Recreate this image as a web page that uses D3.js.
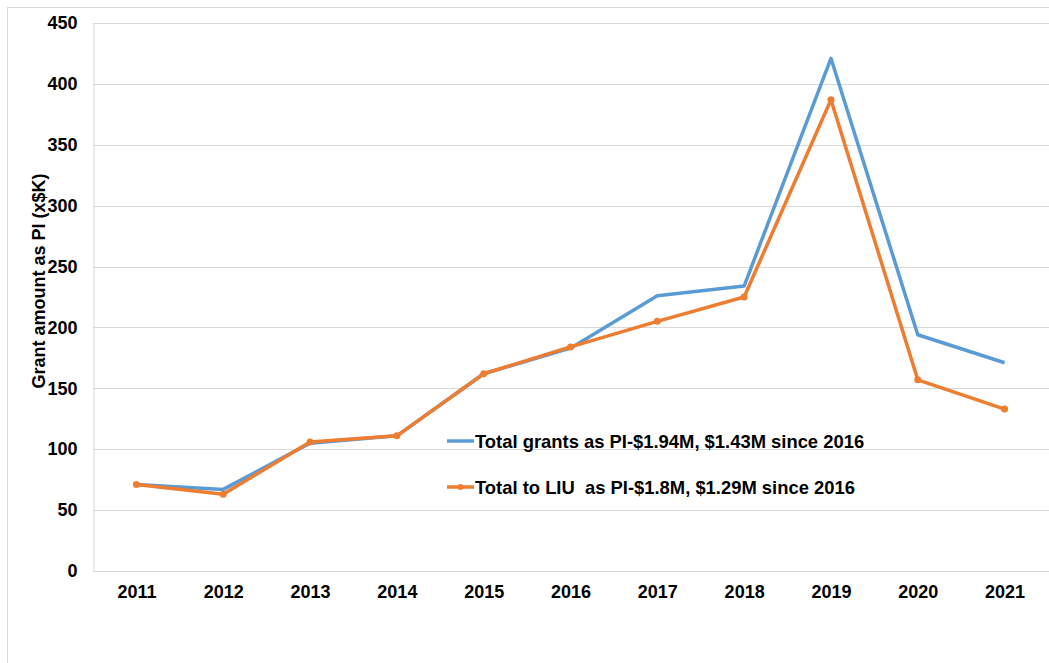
<!DOCTYPE html>
<html>
<head>
<meta charset="utf-8">
<script src="https://cdn.jsdelivr.net/npm/d3@7"></script>
<style>
	body { margin: 0; background: #fff; }
	text { font-family: "Liberation Sans", Arial, sans-serif; font-weight: bold; fill: #000; }
</style>
</head>
<body>
<svg id="chart"></svg>
<script>
// DATA

var years = ["2011", "2012", "2013", "2014", "2015", "2016", "2017", "2018", "2019", "2020", "2021"];
var totalGrants = [71, 67, 105, 111, 162, 183, 226, 234, 421, 194, 171];
var totalLIU = [71, 63, 106, 111, 162, 184, 205, 225, 387, 157, 133];
var yTicks = [0, 50, 100, 150, 200, 250, 300, 350, 400, 450];
var seriesNames = ["Total grants as PI-$1.94M, $1.43M since 2016", "Total to LIU  as PI-$1.8M, $1.29M since 2016"];

// DIMENSIONS

var width = 1049,
	height = 663,
	plotLeft = 93,
	plotRight = 1048,
	plotTop = 23,
	plotBottom = 571;

var blue = '#5b9bd5',
	orange = '#ed7d31',
	grid = '#d9d9d9';

var svg = d3.select('#chart')
	.attr('width', width)
	.attr('height', height);

// outer frame
svg.append('rect')
	.attr('x', 7.5).attr('y', 7.5)
	.attr('width', width + 10).attr('height', height + 10)
	.style('fill', 'none')
	.style('stroke', grid);

// SCALES

var xScale = d3.scalePoint()
	.domain(years)
	.range([plotLeft, plotRight])
	.padding(0.5);

var yScale = d3.scaleLinear()
	.domain([0, 450])
	.range([plotBottom, plotTop]);

// gridlines
svg.append('g').selectAll('line').data(yTicks)
	.enter().append('line')
	.attr('x1', plotLeft).attr('x2', width)
	.attr('y1', function(d) { return Math.round(yScale(d)) + 0.5; })
	.attr('y2', function(d) { return Math.round(yScale(d)) + 0.5; })
	.style('stroke', grid);

// axes
var yAxis = d3.axisLeft(yScale).tickValues(yTicks).tickSize(0).tickPadding(16);
var yGuide = svg.append('g').attr('transform', 'translate(' + (plotLeft + 0.5) + ',0)');
yAxis(yGuide);
yGuide.select('.domain').style('stroke', grid);
yGuide.selectAll('text').style('font-size', '18px').style('font-family', null);

var xAxis = d3.axisBottom(xScale).tickSize(0).tickPadding(14);
var xGuide = svg.append('g').attr('transform', 'translate(0,' + (Math.round(plotBottom) + 0.5) + ')');
xAxis(xGuide);
xGuide.select('.domain').remove();
xGuide.selectAll('text').style('font-size', '18px').style('font-family', null);

svg.append('text')
	.attr('transform', 'translate(45,281) rotate(-90)')
	.attr('text-anchor', 'middle')
	.style('font-size', '18px')
	.text('Grant amount as PI (x$K)');

// LINES

var line = d3.line()
	.x(function(d, i) { return xScale(years[i]); })
	.y(function(d) { return yScale(d); });

svg.append('path')
	.datum(totalGrants)
	.attr('d', line)
	.style('fill', 'none')
	.style('stroke', blue)
	.style('stroke-width', 3.5)
	.style('stroke-linejoin', 'round');

svg.append('path')
	.datum(totalLIU)
	.attr('d', line)
	.style('fill', 'none')
	.style('stroke', orange)
	.style('stroke-width', 3.5)
	.style('stroke-linejoin', 'round');

svg.append('g').selectAll('circle').data(totalLIU)
	.enter().append('circle')
	.attr('cx', function(d, i) { return xScale(years[i]); })
	.attr('cy', function(d) { return yScale(d); })
	.attr('r', 3.5)
	.style('fill', orange);

// LEGEND

var legend = svg.append('g').selectAll('g').data(seriesNames)
	.enter().append('g')
	.attr('transform', function(d, i) { return 'translate(447,' + (441 + i * 46) + ')'; });

legend.append('line')
	.attr('x1', 0).attr('x2', 27)
	.style('stroke', function(d, i) { return i ? orange : blue; })
	.style('stroke-width', 3.5);

legend.filter(function(d, i) { return i === 1; })
	.append('circle')
	.attr('cx', 13.5).attr('r', 3)
	.style('fill', orange);

legend.append('text')
	.attr('x', 28)
	.attr('y', 6.5)
	.style('font-size', '18.4px')
	.style('white-space', 'pre')
	.text(function(d) { return d; });
</script>
</body>
</html>
